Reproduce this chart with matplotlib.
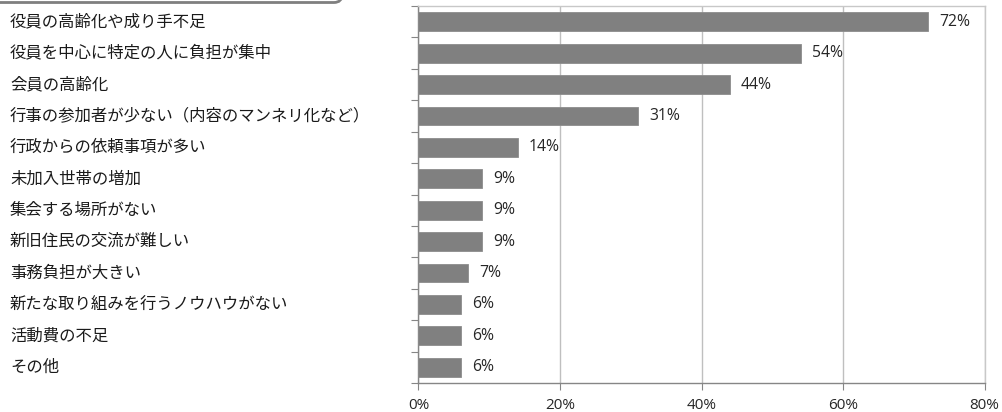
import numpy as np
import matplotlib
matplotlib.use('Agg')
import matplotlib.pyplot as plt
from matplotlib.patches import FancyBboxPatch
from matplotlib.transforms import IdentityTransform, blended_transform_factory

plt.rcParams['font.family'] = ['Noto Sans CJK JP', 'DejaVu Sans']

categories = [
    '役員の高齢化や成り手不足',
    '役員を中心に特定の人に負担が集中',
    '会員の高齢化',
    '行事の参加者が少ない（内容のマンネリ化など）',
    '行政からの依頼事項が多い',
    '未加入世帯の増加',
    '集会する場所がない',
    '新旧住民の交流が難しい',
    '事務負担が大きい',
    '新たな取り組みを行うノウハウがない',
    '活動費の不足',
    'その他',
]
values = [72, 54, 44, 31, 14, 9, 9, 9, 7, 6, 6, 6]
xticks = [0, 20, 40, 60, 80]

W, H = 1003, 412
fig = plt.figure(figsize=(W / 100, H / 100), dpi=100)
ax = fig.add_axes([418.5 / W, 1 - 383 / H, 566 / W, 377 / H])

y = np.arange(len(categories))
ax.barh(y, values, height=0.6, color='#808080', edgecolor='#8c8c8c',
        linewidth=0.6, zorder=3)
ax.set_ylim(len(categories) - 0.5, -0.5)
ax.set_xlim(0, 80)

num_font = ['Open Sans', 'DejaVu Sans']

# 値ラベル
for yi, v in zip(y, values):
    ax.text(v + 1.6, yi, f'{v}%', va='center', ha='left', fontsize=11.3,
            family=num_font, color='#262626')

# 項目ラベル（左寄せ）
trans = blended_transform_factory(fig.transFigure, ax.transData)
for yi, c in zip(y, categories):
    ax.text(10 / W, yi, c, transform=trans, va='center', ha='left',
            fontsize=11.8, color='#1a1a1a')

ax.set_xticks(xticks)
ax.set_xticklabels([f'{t}%' for t in xticks], fontsize=11,
                   family=num_font, color='#262626')
ax.set_yticks(np.arange(-0.5, len(categories)))
ax.set_yticklabels([])
ax.tick_params(axis='both', length=5, color='#868686', width=0.8)
ax.tick_params(axis='x', pad=6)
ax.grid(axis='x', color='#bfbfbf', linewidth=1.0, zorder=0)

for side in ['top', 'right']:
    ax.spines[side].set_color('#c8c8c8')
    ax.spines[side].set_linewidth(1.0)
for side in ['left', 'bottom']:
    ax.spines[side].set_color('#868686')
    ax.spines[side].set_linewidth(1.0)

# 上部の枠（角丸）
box = FancyBboxPatch((-40, H - 2.5), 382, 60,
                     boxstyle='round,pad=0,rounding_size=8',
                     transform=IdentityTransform(), facecolor='none',
                     edgecolor='#7f7f7f', linewidth=2.0, clip_on=False)
fig.patches.append(box)

fig.savefig('out.png', dpi=100)
